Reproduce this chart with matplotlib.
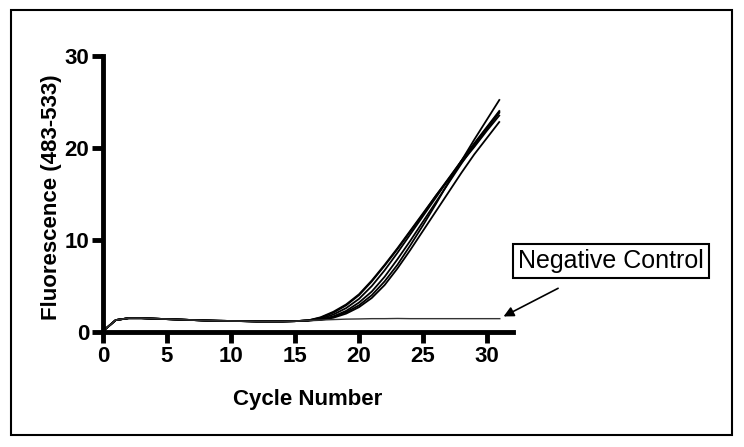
import matplotlib
matplotlib.use("Agg")
import matplotlib.pyplot as plt
from matplotlib.patches import Rectangle

plt.rcParams["font.family"] = ["Liberation Sans", "DejaVu Sans"]

# cycle numbers
cycles = list(range(0, 32))

# shared baseline for cycles 0..16
baseline = [0.1, 1.3, 1.5, 1.5, 1.45, 1.4, 1.35, 1.3, 1.25, 1.22, 1.2,
            1.18, 1.15, 1.15, 1.15, 1.18, 1.25]

# amplification phase, cycles 17..31
amp_a = [1.6, 2.2, 3.0, 4.1, 5.6, 7.3, 9.1, 11.0, 12.9, 14.8, 16.6, 18.4, 20.1, 21.9, 23.6]
amp_b = [1.55, 2.1, 2.9, 4.0, 5.5, 7.2, 9.0, 10.9, 12.8, 14.8, 16.7, 18.6, 20.4, 22.2, 24.0]
amp_c = [1.35, 1.65, 2.15, 2.9, 4.0, 5.5, 7.3, 9.4, 11.6, 13.9, 16.3, 18.6, 20.9, 23.1, 25.3]
amp_d = [1.3, 1.55, 2.0, 2.7, 3.7, 5.1, 6.9, 8.9, 11.0, 13.1, 15.2, 17.3, 19.3, 21.1, 22.9]
amp_e = [1.45, 1.9, 2.6, 3.6, 5.0, 6.7, 8.6, 10.6, 12.6, 14.6, 16.6, 18.6, 20.5, 22.3, 24.1]
amp_f = [1.35, 1.7, 2.3, 3.2, 4.4, 6.0, 7.9, 9.9, 12.0, 14.1, 16.2, 18.3, 20.3, 22.1, 23.9]

# negative control, cycles 17..31
neg_ctrl = [1.3, 1.35, 1.4, 1.42, 1.45, 1.45, 1.47, 1.45, 1.45, 1.45, 1.45, 1.45, 1.45, 1.45, 1.45]

x_ticks = [0, 5, 10, 15, 20, 25, 30]
y_ticks = [0, 10, 20, 30]

W, H = 744, 447
fig = plt.figure(figsize=(W / 100, H / 100), dpi=100)
ax = fig.add_axes([103 / W, 1 - 332 / H, 12.8 * 32 / W, (332 - 56) / H])

# outer frame around the whole picture
fig.patches.append(Rectangle((11 / W, 1 - 435 / H), (732 - 11) / W, (435 - 10) / H,
                             transform=fig.transFigure, fill=False,
                             edgecolor="black", linewidth=1.5))

for amp in [amp_a, amp_b, amp_c, amp_d, amp_e, amp_f]:
    ax.plot(cycles, baseline + amp, color="black", linewidth=1.3, solid_capstyle="butt")
ax.plot(cycles, baseline + neg_ctrl, color="#333333", linewidth=1.0)

ax.set_xlim(0, 32)
ax.set_ylim(0, 30)
ax.set_xticks(x_ticks)
ax.set_yticks(y_ticks)
for side in ["top", "right"]:
    ax.spines[side].set_visible(False)
for side in ["left", "bottom"]:
    ax.spines[side].set_linewidth(3.5)
ax.tick_params(direction="out", length=8, width=3.5, labelsize=16, pad=2)
for lbl in ax.get_xticklabels() + ax.get_yticklabels():
    lbl.set_fontweight("bold")

ax.set_xlabel("Cycle Number", fontsize=16, fontweight="bold", labelpad=16)
ax.set_ylabel("Fluorescence (483-533)", fontsize=16, fontweight="bold", va="center")
ax.yaxis.set_label_coords(-0.125, 0.49)

ax.annotate("Negative Control", xy=(31.1, 1.55), xytext=(611 / W, 1 - 261 / H),
            textcoords="figure fraction", ha="center", va="center", fontsize=18,
            bbox=dict(boxstyle="square,pad=0.2", fc="white", ec="black", lw=1.5),
            arrowprops=dict(arrowstyle="-|>", color="black", lw=1.2,
                            shrinkA=15, shrinkB=2, mutation_scale=15))

fig.savefig("out.png", dpi=100)
